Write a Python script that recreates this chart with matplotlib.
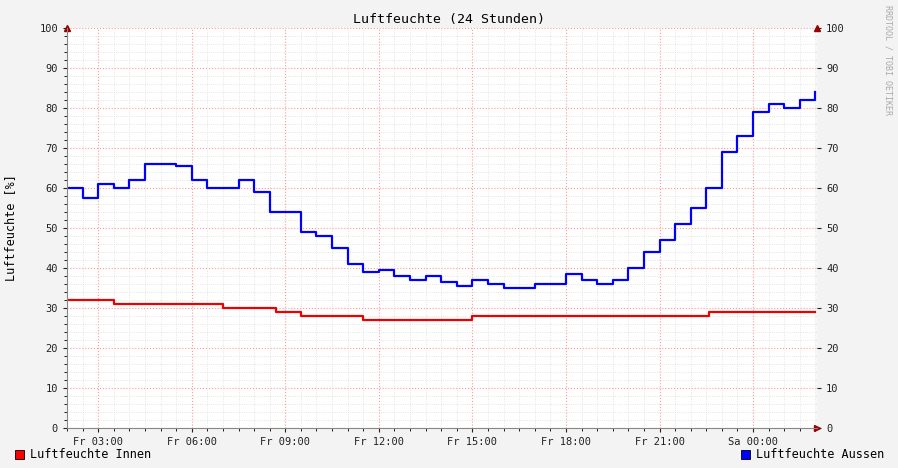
import matplotlib
matplotlib.use("Agg")
import matplotlib.pyplot as plt
import numpy as np

# hours since Fr 02:00, 30-min steps
blue_vals = [60, 57.5, 61, 60, 62, 66, 66, 65.5, 62, 60, 60, 62, 59, 54, 54, 49, 48, 45, 41, 39,
             39.5, 38, 37, 38, 36.5, 35.5, 37, 36, 35, 35, 36, 36, 38.5, 37, 36, 37, 40, 44, 47,
             51, 55, 60, 69, 73, 79, 81, 80, 82, 84]
red_hours = [0, 1.5, 5.0, 6.7, 7.5, 9.5, 13.0, 20.6, 24]
red_vals = [32, 31, 30, 29, 28, 27, 28, 29, 29]
tick_hours = [1, 4, 7, 10, 13, 16, 19, 22]
tick_labels = ["Fr 03:00", "Fr 06:00", "Fr 09:00", "Fr 12:00", "Fr 15:00", "Fr 18:00", "Fr 21:00", "Sa 00:00"]

plt.rcParams['font.family'] = 'DejaVu Sans Mono'
fig = plt.figure(figsize=(8.98, 4.68), dpi=100, facecolor='#f3f3f3')
ax = fig.add_axes([67/898, 40/468, 750/898, 400/468])
ax.set_facecolor('white')
bt = np.arange(len(blue_vals)) * 0.5
ax.plot(bt, blue_vals, drawstyle='steps-post', color='#0000ff', lw=1.6)
ax.plot(red_hours, red_vals, drawstyle='steps-post', color='#ee0000', lw=1.6)
ax.set_xlim(0, 24.05)
ax.set_ylim(0, 100)
ax.set_xticks(tick_hours)
ax.set_xticklabels(tick_labels)
ax.set_xticks(np.arange(0, 24.1, 0.5), minor=True)
ax.set_yticks(range(0, 101, 10))
ax.set_yticks(range(0, 101, 2), minor=True)
ax.grid(which='minor', color='#dddddd', ls=':', lw=0.6)
ax.grid(which='major', color='#ff9999', ls=':', lw=0.8)
ax.tick_params(labelsize=7.5, length=3, colors='#222222', labelright=True, right=True)
for s in ['top', 'right']:
    ax.spines[s].set_visible(False)
for s in ['left', 'bottom']:
    ax.spines[s].set_color('#888888')
ax.plot([1], [0], '>', color='#990000', ms=4, transform=ax.transAxes, clip_on=False)
ax.plot([0], [1], '^', color='#990000', ms=4, transform=ax.transAxes, clip_on=False)
ax.plot([1], [1], '^', color='#990000', ms=4, transform=ax.transAxes, clip_on=False)
ax.axvline(24.05, color='#888888', lw=0.8)
fig.text(11/898, 1 - 228/468, 'Luftfeuchte [%]', rotation=90, ha='center', va='center', fontsize=8.5)
fig.text(0.5, 1 - 19/468, 'Luftfeuchte (24 Stunden)', ha='center', va='center', fontsize=9.5)
fig.text(888/898, 1 - 60/468, 'RRDTOOL / TOBI OETIKER', rotation=270, ha='center', va='center', fontsize=6, color='#aaaaaa')
fig.patches.append(plt.Rectangle((15/898, 1-459/468), 9/898, 9/468, transform=fig.transFigure, fc='#ff0000', ec='black', lw=0.6))
fig.text(30/898, 1-454/468, 'Luftfeuchte Innen', va='center', fontsize=8.5)
fig.patches.append(plt.Rectangle((741/898, 1-459/468), 9/898, 9/468, transform=fig.transFigure, fc='#0000ff', ec='black', lw=0.6))
fig.text(756/898, 1-454/468, 'Luftfeuchte Aussen', va='center', fontsize=8.5)
fig.savefig('out.png', dpi=100, facecolor=fig.get_facecolor())
